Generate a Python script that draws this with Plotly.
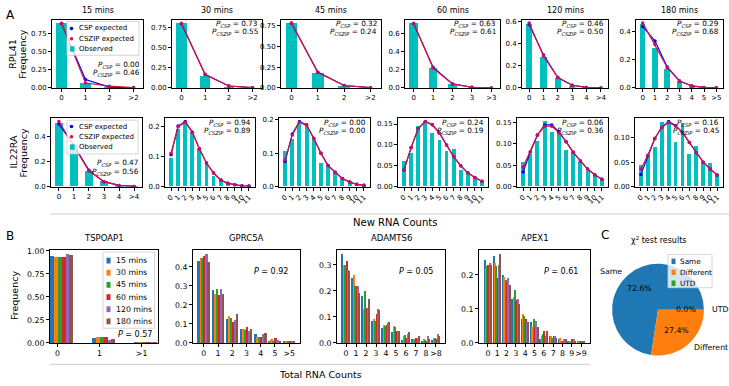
import math
import plotly.graph_objects as go

W, H = 729, 386
FONT = "DejaVu Sans"

# ---------------- Data ----------------
time_labels = ["15 mins", "30 mins", "45 mins", "60 mins", "120 mins", "180 mins"]

# Panel A, RPL41 (new RNA counts)
rpl41_cats = [
    ["0", "1", "2", ">2"],
    ["0", "1", "2", ">2"],
    ["0", "1", "2", ">2"],
    ["0", "1", "2", "3", ">3"],
    ["0", "1", "2", "3", "4", ">4"],
    ["0", "1", "2", "3", "4", "5", ">5"],
]
rpl41_obs = [
    [0.89, 0.08, 0.012, 0.002],
    [0.81, 0.16, 0.02, 0.003],
    [0.78, 0.18, 0.03, 0.004],
    [0.72, 0.22, 0.045, 0.01, 0.002],
    [0.585, 0.285, 0.09, 0.025, 0.006, 0.002],
    [0.46, 0.29, 0.14, 0.055, 0.015, 0.006, 0.002],
]
rpl41_csp = [
    [0.88, 0.115, 0.012, 0.002],
    [0.80, 0.17, 0.025, 0.004],
    [0.775, 0.19, 0.03, 0.004],
    [0.71, 0.23, 0.045, 0.008, 0.001],
    [0.575, 0.30, 0.095, 0.025, 0.005, 0.001],
    [0.44, 0.335, 0.15, 0.05, 0.015, 0.004, 0.001],
]
rpl41_cszip = [
    [0.885, 0.068, 0.025, 0.006],
    [0.805, 0.165, 0.025, 0.004],
    [0.78, 0.185, 0.03, 0.004],
    [0.715, 0.22, 0.045, 0.008, 0.001],
    [0.59, 0.29, 0.095, 0.025, 0.005, 0.001],
    [0.465, 0.31, 0.145, 0.05, 0.015, 0.004, 0.001],
]
rpl41_p_csp = [0.00, 0.73, 0.32, 0.63, 0.46, 0.29]
rpl41_p_cszip = [0.46, 0.55, 0.24, 0.61, 0.50, 0.68]

# Panel A, IL22RA
il22_cats_short = ["0", "1", "2", "3", "4", ">4"]
il22_cats_long = ["0", "1", "2", "3", "4", "5", "6", "7", "8", "9", "10", "11"]
il22_cats = [il22_cats_short] + [il22_cats_long] * 5
il22_obs = [
    [0.51, 0.33, 0.12, 0.045, 0.01, 0.002],
    [0.095, 0.19, 0.21, 0.177, 0.123, 0.08, 0.035, 0.024, 0.013, 0.008, 0.004, 0.002],
    [0.107, 0.143, 0.187, 0.178, 0.139, 0.07, 0.06, 0.043, 0.023, 0.016, 0.006, 0.004],
    [0.06, 0.081, 0.145, 0.152, 0.129, 0.111, 0.085, 0.09, 0.04, 0.031, 0.02, 0.013],
    [0.058, 0.075, 0.105, 0.152, 0.127, 0.125, 0.084, 0.081, 0.056, 0.036, 0.024, 0.015],
    [0.044, 0.062, 0.08, 0.131, 0.127, 0.09, 0.129, 0.067, 0.082, 0.049, 0.047, 0.025],
]
il22_csp = [
    [0.50, 0.33, 0.13, 0.04, 0.01, 0.002],
    [0.105, 0.20, 0.215, 0.18, 0.125, 0.078, 0.045, 0.022, 0.011, 0.006, 0.003, 0.002],
    [0.075, 0.158, 0.195, 0.185, 0.145, 0.10, 0.063, 0.043, 0.024, 0.014, 0.007, 0.004],
    [0.04, 0.094, 0.139, 0.156, 0.148, 0.128, 0.10, 0.072, 0.05, 0.033, 0.022, 0.013],
    [0.034, 0.081, 0.12, 0.144, 0.144, 0.128, 0.105, 0.08, 0.06, 0.041, 0.028, 0.017],
    [0.025, 0.063, 0.098, 0.121, 0.133, 0.125, 0.111, 0.09, 0.069, 0.05, 0.036, 0.024],
]
il22_cszip = [
    [0.52, 0.32, 0.125, 0.04, 0.01, 0.002],
    [0.11, 0.198, 0.213, 0.18, 0.125, 0.078, 0.045, 0.022, 0.011, 0.006, 0.003, 0.002],
    [0.08, 0.155, 0.193, 0.183, 0.144, 0.10, 0.063, 0.043, 0.024, 0.014, 0.007, 0.004],
    [0.04, 0.093, 0.139, 0.156, 0.148, 0.128, 0.10, 0.072, 0.05, 0.033, 0.022, 0.013],
    [0.045, 0.081, 0.121, 0.141, 0.141, 0.126, 0.105, 0.08, 0.06, 0.041, 0.028, 0.017],
    [0.036, 0.064, 0.099, 0.121, 0.131, 0.124, 0.111, 0.09, 0.069, 0.05, 0.036, 0.024],
]
il22_p_csp = [0.47, 0.94, 0.00, 0.24, 0.06, 0.16]
il22_p_cszip = [0.56, 0.89, 0.00, 0.19, 0.36, 0.45]

# Panel B, total RNA counts (rows = categories, columns = time points)
b_genes = ["TSPOAP1", "GPRC5A", "ADAMTS6", "APEX1"]
b_cats = [
    ["0", "1", ">1"],
    ["0", "1", "2", "3", "4", "5", ">5"],
    ["0", "1", "2", "3", "4", "5", "6", "7", "8", ">8"],
    ["0", "1", "2", "3", "4", "5", "6", "7", "8", "9", ">9"],
]
tspoap1_freq = [
    [0.945, 0.935, 0.935, 0.935, 0.96, 0.95],
    [0.05, 0.06, 0.06, 0.06, 0.03, 0.04],
    [0.005, 0.005, 0.005, 0.005, 0.005, 0.005],
]
gprc5a_freq = [
    [0.43, 0.445, 0.445, 0.455, 0.465, 0.425],
    [0.28, 0.255, 0.285, 0.25, 0.285, 0.255],
    [0.125, 0.14, 0.13, 0.11, 0.12, 0.15],
    [0.07, 0.07, 0.065, 0.085, 0.06, 0.075],
    [0.045, 0.03, 0.03, 0.03, 0.045, 0.05],
    [0.01, 0.02, 0.01, 0.025, 0.015, 0.01],
    [0.01, 0.01, 0.005, 0.005, 0.01, 0.01],
]
adamts6_freq = [
    [0.34, 0.30, 0.30, 0.315, 0.28, 0.275],
    [0.25, 0.26, 0.22, 0.22, 0.22, 0.19],
    [0.18, 0.13, 0.20, 0.135, 0.135, 0.17],
    [0.085, 0.09, 0.085, 0.11, 0.13, 0.125],
    [0.055, 0.07, 0.065, 0.07, 0.075, 0.08],
    [0.04, 0.065, 0.06, 0.045, 0.045, 0.045],
    [0.01, 0.025, 0.03, 0.02, 0.035, 0.04],
    [0.015, 0.015, 0.01, 0.02, 0.02, 0.025],
    [0.005, 0.015, 0.01, 0.005, 0.025, 0.015],
    [0.01, 0.02, 0.02, 0.015, 0.035, 0.025],
]
apex1_freq = [
    [0.245, 0.22, 0.225, 0.23, 0.235, 0.23],
    [0.255, 0.235, 0.225, 0.19, 0.23, 0.26],
    [0.20, 0.195, 0.185, 0.18, 0.19, 0.17],
    [0.13, 0.135, 0.155, 0.125, 0.13, 0.115],
    [0.07, 0.085, 0.08, 0.07, 0.06, 0.06],
    [0.06, 0.045, 0.07, 0.045, 0.065, 0.045],
    [0.01, 0.02, 0.025, 0.035, 0.02, 0.035],
    [0.02, 0.02, 0.015, 0.02, 0.02, 0.015],
    [0.01, 0.015, 0.005, 0.005, 0.01, 0.01],
    [0.005, 0.005, 0.002, 0.01, 0.01, 0.005],
    [0.005, 0.005, 0.005, 0.005, 0.005, 0.005],
]
b_freqs = [tspoap1_freq, gprc5a_freq, adamts6_freq, apex1_freq]
b_pvals = [0.57, 0.92, 0.05, 0.61]

# Panel C
chi_labels = ["Same", "Different", "UTD"]
chi_values = [72.6, 27.4, 0.0]

# ---------------- Styles ----------------
C_CSP = "#0000ff"
C_CSZIP = "#dc143c"
C_CSZIP_M = "#c8105a"
C_OBS = "#00bfbf"
TAB10 = ["#1f77b4", "#ff7f0e", "#2ca02c", "#d62728", "#9467bd", "#8c564b"]

fig = go.Figure()
annotations = []
shapes = []


def PX(x):
    return x / W


def PY(y):
    return 1 - y / H


def ann(text, x, y, size=7.5, xanchor="center", yanchor="middle", angle=0):
    annotations.append(dict(text=text, x=PX(x), y=PY(y), xref="paper", yref="paper",
                            showarrow=False, xanchor=xanchor, yanchor=yanchor,
                            textangle=angle, font=dict(size=size, family=FONT, color="black")))


def rect(x0, y0, x1, y1, fill, line_color=None, lw=0):
    shapes.append(dict(type="rect", xref="paper", yref="paper", x0=PX(x0), x1=PX(x1),
                       y0=PY(y1), y1=PY(y0), fillcolor=fill, layer="above",
                       line=dict(color=line_color or fill, width=lw)))


def dot(x, y, r, color):
    shapes.append(dict(type="circle", xref="paper", yref="paper", x0=PX(x - r), x1=PX(x + r),
                       y0=PY(y + r), y1=PY(y - r), fillcolor=color, layer="above",
                       line=dict(color=color, width=0)))


def legend_frame(x0, y0, x1, y1):
    rect(x0, y0, x1, y1, "rgba(255,255,255,0.8)", "#cccccc", 0.8)


axis_count = [0]


def new_axes(box, xrange, tickvals, ticktext, yrange, ytickvals, yfmt, tickangle=0, tsize=7):
    axis_count[0] += 1
    k = axis_count[0]
    sx = "" if k == 1 else str(k)
    l, r, t, b = box
    common = dict(showline=True, mirror=True, linecolor="black", linewidth=0.9,
                  ticks="outside", ticklen=3, tickwidth=0.8, tickcolor="black",
                  showgrid=False, zeroline=False, fixedrange=True,
                  tickfont=dict(size=tsize, family=FONT, color="black"))
    fig.update_layout(**{
        "xaxis" + sx: dict(domain=[l / W, r / W], anchor="y" + sx, range=xrange,
                           tickmode="array", tickvals=tickvals, ticktext=ticktext,
                           tickangle=tickangle, **common),
        "yaxis" + sx: dict(domain=[1 - b / H, 1 - t / H], anchor="x" + sx, range=yrange,
                           tickmode="array", tickvals=ytickvals,
                           ticktext=[format(v, yfmt) for v in ytickvals], **common),
    })
    return "x" + sx, "y" + sx


row1_boxes = [(52, 143), (172, 262), (281, 381), (405, 500), (522, 608), (636, 723)]
row1_tb = (16, 86)
row2_boxes = [(51, 142), (165, 255), (279, 370), (398, 488), (517, 608), (635, 723)]
row2_tb = (117, 187)
row1_yt = [([0, 0.25, 0.5, 0.75], ".2f")] * 3 + [([0, 0.2, 0.4, 0.6], ".1f")] * 2 + [([0, 0.2, 0.4], ".1f")]
row2_yt = [([0, 0.2, 0.4], ".1f"), ([0, 0.1, 0.2], ".1f"), ([0, 0.1, 0.2], ".1f"),
           ([0, 0.05, 0.10, 0.15], ".2f"), ([0, 0.05, 0.10, 0.15], ".2f"), ([0, 0.05, 0.10], ".2f")]


def panel_A(box_lr, tb, cats, obs, csp, cszip, yt, bw, tickangle, pc, pz, ppos):
    n = len(cats)
    lo, hi = -bw / 2, n - 1 + bw / 2
    m = 0.05 * (hi - lo)
    ymax = max(obs + csp + cszip) * 1.05
    xa, ya = new_axes((box_lr[0], box_lr[1], tb[0], tb[1]), [lo - m, hi + m],
                      list(range(n)), cats, [0, ymax], yt[0], yt[1], tickangle)
    xs = list(range(n))
    fig.add_trace(go.Bar(x=xs, y=obs, width=bw, marker=dict(color=C_OBS, line=dict(width=0)),
                         name="Observed", xaxis=xa, yaxis=ya, showlegend=False, hoverinfo="skip"))
    fig.add_trace(go.Scatter(x=xs, y=csp, mode="lines+markers", name="CSP expected",
                             line=dict(color=C_CSP, width=1.2), marker=dict(color=C_CSP, size=3.5),
                             xaxis=xa, yaxis=ya, showlegend=False, hoverinfo="skip"))
    fig.add_trace(go.Scatter(x=xs, y=cszip, mode="lines+markers", name="CSZIP expected",
                             line=dict(color=C_CSZIP, width=1.2), marker=dict(color=C_CSZIP_M, size=3.5),
                             xaxis=xa, yaxis=ya, showlegend=False, hoverinfo="skip"))
    xr, y1, y2 = ppos
    ann("<i>P</i><sub><i>CSP</i></sub> = %.2f" % pc, xr, y1, size=7.3, xanchor="right")
    ann("<i>P</i><sub><i>CSZIP</i></sub> = %.2f" % pz, xr, y2, size=7.3, xanchor="right")


for i in range(6):
    l, r = row1_boxes[i]
    pp = (r - 1, 62, 71) if i == 0 else (r - 2, row1_tb[0] + 4.5, row1_tb[0] + 12.5)
    panel_A(row1_boxes[i], row1_tb, rpl41_cats[i], rpl41_obs[i], rpl41_csp[i], rpl41_cszip[i],
            row1_yt[i], 0.45, 0, rpl41_p_csp[i], rpl41_p_cszip[i], pp)
    ann(time_labels[i], (l + r) / 2, 7, size=8)

for i in range(6):
    l, r = row2_boxes[i]
    pp = (r - 1, 163, 171.5) if i == 0 else (r - 2, row2_tb[0] + 4.7, row2_tb[0] + 13)
    panel_A(row2_boxes[i], row2_tb, il22_cats[i], il22_obs[i], il22_csp[i], il22_cszip[i],
            row2_yt[i], 0.5 if i == 0 else 0.55, 0 if i == 0 else -45,
            il22_p_csp[i], il22_p_cszip[i], pp)


def legend_A(x0, y0, x1, y1, ys):
    legend_frame(x0, y0, x1, y1)
    dot(71.5, ys[0], 1.8, C_CSP)
    ann("CSP expected", 76.5, ys[0], size=7, xanchor="left")
    dot(71.5, ys[1], 1.8, C_CSZIP)
    ann("CSZIP expected", 76.5, ys[1], size=7, xanchor="left")
    rect(70, ys[2] - 2.8, 74.5, ys[2] + 2.8, C_OBS)
    ann("Observed", 76.5, ys[2], size=7, xanchor="left")


legend_A(67, 18, 139, 52.5, [25, 35.5, 46])
legend_A(67, 119, 138, 153.5, [125.5, 136, 146.5])

# ---------------- Panel B ----------------
rowB_boxes = [(50, 158), (193, 300), (337, 445), (479, 590)]
rowB_tb = (252, 347)
rowB_yt = [([0, 0.25, 0.5, 0.75, 1.0], ".2f"), ([0, 0.1, 0.2, 0.3, 0.4], ".1f"),
           ([0, 0.1, 0.2, 0.3], ".1f"), ([0, 0.1, 0.2], ".1f")]
for g in range(4):
    cats = b_cats[g]
    freq = b_freqs[g]
    n = len(cats)
    if g == 0:
        bw, shift = 0.09, 0.1
        xrange = [-0.18, 2.39]
    else:
        bw, shift = 0.14, 0.0
        lo, hi = -3 * bw, n - 1 + 3 * bw
        m = 0.05 * (hi - lo)
        xrange = [lo - m, hi + m]
    ymax = max(max(row) for row in freq) * 1.05
    l, r = rowB_boxes[g]
    xa, ya = new_axes((l, r, rowB_tb[0], rowB_tb[1]), xrange, list(range(n)), cats,
                      [0, ymax], rowB_yt[g][0], rowB_yt[g][1], tsize=7.8)
    for j in range(6):
        xs = [c + (j - 2.5) * bw + shift for c in range(n)]
        ys = [freq[c][j] for c in range(n)]
        fig.add_trace(go.Bar(x=xs, y=ys, width=bw, name=time_labels[j],
                             marker=dict(color=TAB10[j], line=dict(width=0)),
                             xaxis=xa, yaxis=ya, showlegend=False, hoverinfo="skip"))
    ann(b_genes[g], (l + r) / 2, 240, size=8.5)
    if g == 0:
        ann("<i>P</i> = %.2f" % b_pvals[g], r - 4, 338, size=8, xanchor="right")
    else:
        ann("<i>P</i> = %.2f" % b_pvals[g], r - 10, 274, size=8, xanchor="right")

# legend for panel B
legend_frame(103, 254, 154.5, 332)
for j in range(6):
    yc = 262.7 + j * 12.45
    rect(106.5, yc - 3, 110.5, yc + 3, TAB10[j])
    ann(time_labels[j], 114, yc, size=7.8, xanchor="left")

# ---------------- Panel C ----------------
cx, cy, R = 658, 313, 47
total = sum(chi_values)
fig.add_trace(go.Pie(labels=chi_labels, values=chi_values, sort=False, direction="counterclockwise",
                     rotation=90 - 360 * chi_values[0] / total, textinfo="none", hoverinfo="skip",
                     marker=dict(colors=TAB10[:3], line=dict(width=0)),
                     domain=dict(x=[(cx - R) / W, (cx + R) / W], y=[1 - (cy + R) / H, 1 - (cy - R) / H]),
                     showlegend=False))
start = 0.0
for lab, v in zip(chi_labels, chi_values):
    frac = v / total
    mid = math.radians(start + frac * 180)
    start += frac * 360
    c, s = math.cos(mid), math.sin(mid)
    ann(lab, cx + 1.1 * R * c, cy - 1.1 * R * s, size=7.8, xanchor="right" if c < 0 else "left")
    ann("%.1f%%" % (frac * 100), cx + 0.6 * R * c, cy - 0.6 * R * s, size=7.8)
ann("χ<sup>2</sup> test results", 658, 242, size=8)

legend_frame(668, 256.5, 712, 290.5)
for j, lab in enumerate(chi_labels):
    yc = 263.5 + j * 11.2
    rect(671.5, yc - 2.8, 675.5, yc + 2.8, TAB10[j])
    ann(lab, 678, yc, size=7.3, xanchor="left")

# ---------------- Labels ----------------
ann("A", 4, 11, size=12, xanchor="left")
ann("B", 4, 238, size=12, xanchor="left")
ann("C", 599, 237, size=12, xanchor="left")
ann("RPL41", 13, 51, size=9.5, angle=-90)
ann("Frequency", 23, 51, size=9.5, angle=-90)
ann("IL22RA", 13, 152, size=9.5, angle=-90)
ann("Frequency", 23, 152, size=9.5, angle=-90)
ann("Frequency", 14, 299, size=9.5, angle=-90)
ann("New RNA Counts", 395, 224, size=10)
ann("Total RNA Counts", 320, 379, size=9.5)

shapes.append(dict(type="line", xref="paper", yref="paper", x0=PX(50), x1=PX(729), y0=PY(215), y1=PY(215),
                   line=dict(color="#cccccc", width=1)))
shapes.append(dict(type="line", xref="paper", yref="paper", x0=PX(50), x1=PX(590), y0=PY(369), y1=PY(369),
                   line=dict(color="#cccccc", width=1)))

fig.update_layout(
    width=W, height=H, autosize=False,
    margin=dict(l=0, r=0, t=0, b=0),
    paper_bgcolor="white", plot_bgcolor="white",
    barmode="overlay", bargap=0, showlegend=False,
    font=dict(family=FONT, size=8, color="black"),
    annotations=annotations, shapes=shapes,
)
fig.write_html("out.html", config={"displayModeBar": False},
               post_script="document.body.style.margin='0px';")
